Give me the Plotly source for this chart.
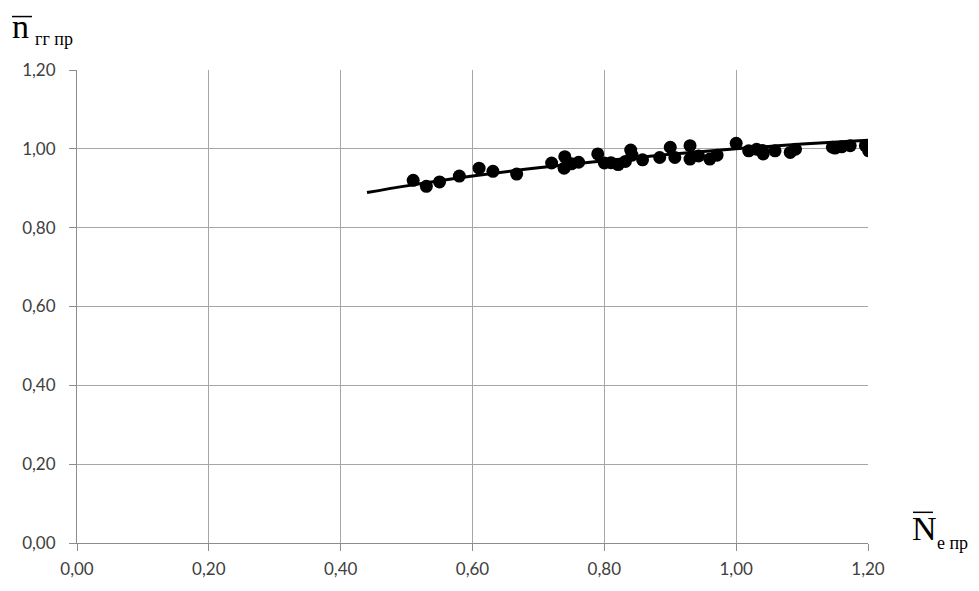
import plotly.graph_objects as go

# Measured points: relative power (x) vs relative speed (y)
n_e_pr = [0.510, 0.530, 0.550, 0.580, 0.610, 0.631, 0.667, 0.720, 0.740, 0.739,
          0.750, 0.761, 0.790, 0.800, 0.810, 0.821, 0.832, 0.840, 0.842, 0.858,
          0.884, 0.900, 0.907, 0.930, 0.930, 0.943, 0.960, 0.971, 1.000, 1.019,
          1.031, 1.041, 1.040, 1.059, 1.082, 1.090, 1.146, 1.150, 1.160, 1.173,
          1.196, 1.201]
n_gg_pr = [0.920, 0.905, 0.916, 0.931, 0.951, 0.943, 0.936, 0.964, 0.980, 0.951,
           0.962, 0.966, 0.987, 0.964, 0.965, 0.960, 0.968, 0.997, 0.984, 0.972,
           0.978, 1.004, 0.978, 1.008, 0.974, 0.982, 0.974, 0.984, 1.014, 0.995,
           0.999, 0.987, 0.996, 0.995, 0.991, 0.999, 1.004, 1.002, 1.005, 1.008,
           1.008, 0.995]

# Trend curve
trend_x = [0.44, 0.50, 0.60, 0.70, 0.80, 0.90, 1.00, 1.10, 1.20]
trend_y = [0.889, 0.906, 0.931, 0.952, 0.970, 0.986, 1.000, 1.012, 1.022]

tick_vals = [0.0, 0.2, 0.4, 0.6, 0.8, 1.0, 1.2]

W, H = 979, 591
L, R, T, B = 77, 868, 70, 548

fig = go.Figure()
fig.add_trace(go.Scatter(x=n_e_pr, y=n_gg_pr, mode="markers",
                         marker=dict(color="black", size=13),
                         showlegend=False, hoverinfo="x+y"))
fig.add_trace(go.Scatter(x=trend_x, y=trend_y, mode="lines",
                         line=dict(color="black", width=3, shape="spline"),
                         showlegend=False, hoverinfo="skip"))

axis_common = dict(
    range=[0, 1.2], tickvals=tick_vals, tickformat=".2f",
    showgrid=True, gridcolor="#a6a6a6", gridwidth=1,
    showline=True, linecolor="#8c8c8c", linewidth=1,
    ticks="outside", ticklen=7, tickcolor="#8c8c8c",
    zeroline=False, fixedrange=True,
    tickfont=dict(family="Lato, Open Sans, sans-serif", size=17, color="#404040"),
)
fig.update_xaxes(**axis_common, ticklabelstandoff=4)
fig.update_yaxes(**axis_common, ticklabelstandoff=10)


def px_x(p):
    return (p - L) / (R - L)


def px_y(p):
    return (B - p) / (B - T)


serif = "Liberation Serif, DejaVu Serif, serif"
annos = [
    # y-axis label: n with bar, subscript гг пр
    dict(text="n", x=px_x(10), y=px_y(47), size=34),
    dict(text="гг пр", x=px_x(33), y=px_y(51), size=18),
    # x-axis label: N with bar, subscript е пр
    dict(text="N", x=px_x(910), y=px_y(554), size=34),
    dict(text="е пр", x=px_x(935), y=px_y(560), size=18),
]
for a in annos:
    fig.add_annotation(text=a["text"], x=a["x"], y=a["y"], xref="paper", yref="paper",
                       xanchor="left", yanchor="bottom", showarrow=False,
                       font=dict(family=serif, size=a["size"], color="black"))

# Overbars on the axis symbols
fig.add_shape(type="line", xref="paper", yref="paper",
              x0=px_x(12), x1=px_x(32), y0=px_y(16), y1=px_y(16),
              line=dict(color="black", width=1.5))
fig.add_shape(type="line", xref="paper", yref="paper",
              x0=px_x(913), x1=px_x(933), y0=px_y(517), y1=px_y(517),
              line=dict(color="black", width=1.5))

fig.update_layout(
    width=W, height=H,
    margin=dict(l=L, r=W - R, t=T, b=H - B),
    plot_bgcolor="white", paper_bgcolor="white",
    separators=",.",
)

fig.write_html("out.html")
